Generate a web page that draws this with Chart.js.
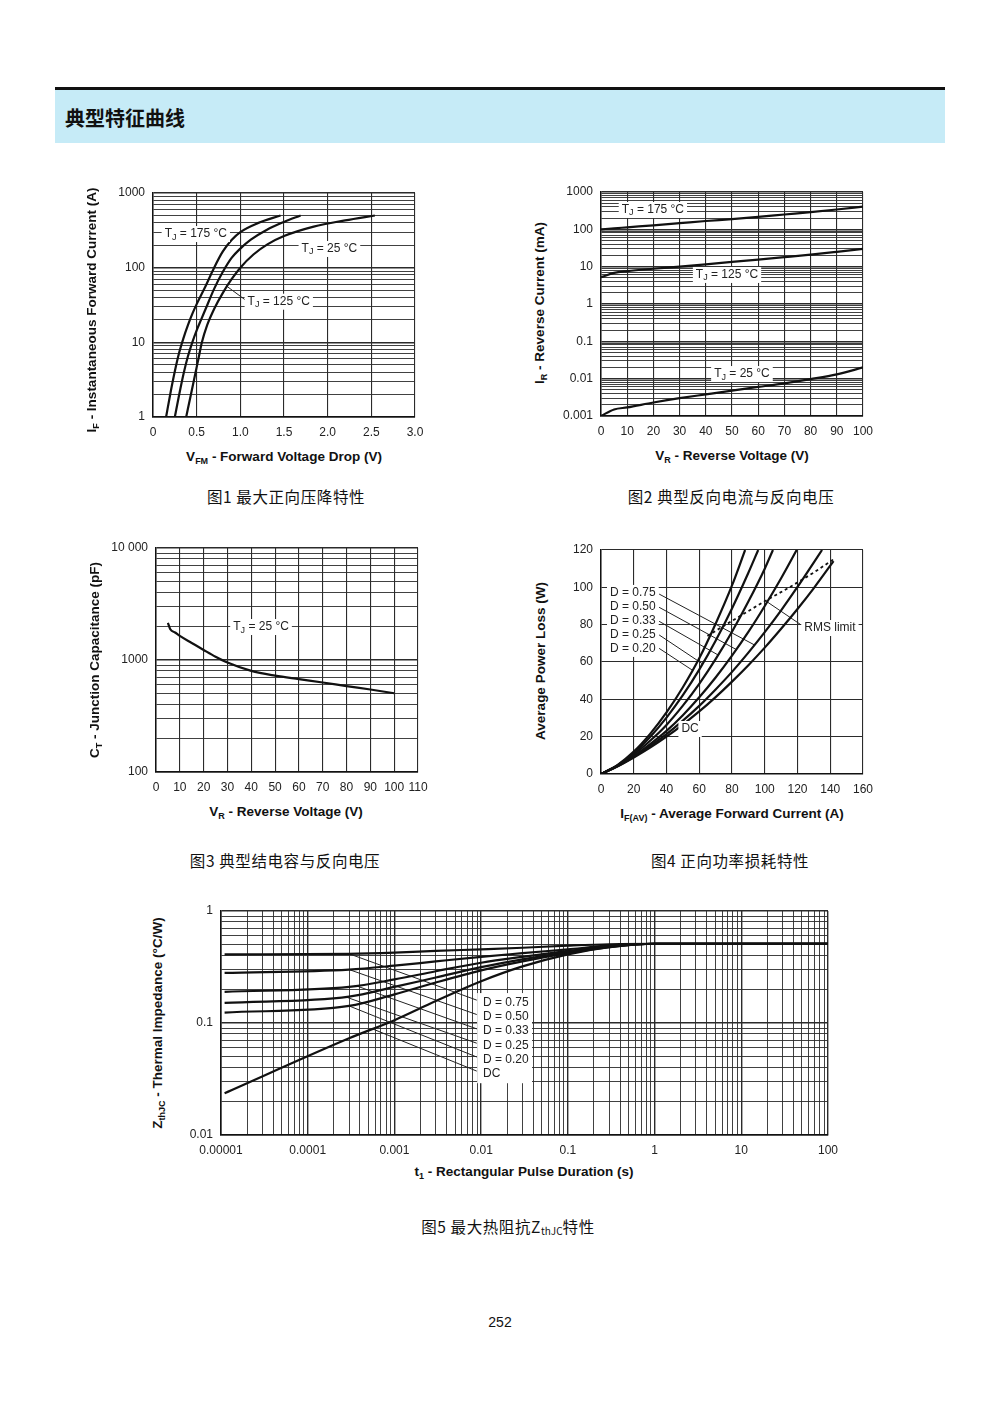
<!DOCTYPE html>
<html>
<head>
<meta charset="utf-8">
<script src="https://cdn.jsdelivr.net/npm/chart.js@4.4.1/dist/chart.umd.min.js"></script>
<style>
body{margin:0;background:#fff;}
#page{position:relative;width:1000px;height:1414px;overflow:hidden;font-family:"Liberation Sans",Arial,sans-serif;color:#111;}
.rule{position:absolute;left:55px;top:87px;width:890px;height:3px;background:#111;}
.band{position:absolute;left:55px;top:90px;width:890px;height:53px;background:#c6ebf7;}
.band span{position:absolute;left:10px;top:50%;transform:translateY(-50%);font:bold 20px "Noto Sans CJK SC";}
canvas{position:absolute;}
.ax{position:absolute;font-weight:bold;font-size:13.5px;white-space:nowrap;transform:translate(-50%,-50%);}
.ax.v{transform:translate(-50%,-50%) rotate(-90deg);}
.ax sub{font-size:9px;vertical-align:-3px;}
.cap{position:absolute;font:15.5px "Noto Sans CJK SC";letter-spacing:0.6px;white-space:pre;transform:translate(-50%,-50%);}
.cap sub{font-size:10px;vertical-align:-2px;letter-spacing:0;}
.pno{position:absolute;left:500px;top:1322px;transform:translate(-50%,-50%);font-size:14px;}
</style>
</head>
<body>
<div id="page">
  <div class="rule"></div>
  <div class="band"><span>典型特征曲线</span></div>

  <canvas id="fig1"></canvas>
  <canvas id="fig2"></canvas>
  <canvas id="fig3"></canvas>
  <canvas id="fig4"></canvas>
  <canvas id="fig5"></canvas>

  <div class="ax v" style="left:92px;top:310px">I<sub>F</sub> - Instantaneous Forward Current (A)</div>
  <div class="ax" style="left:284px;top:457px">V<sub>FM</sub> - Forward Voltage Drop (V)</div>
  <div class="ax v" style="left:540px;top:303px">I<sub>R</sub> - Reverse Current (mA)</div>
  <div class="ax" style="left:732px;top:456px">V<sub>R</sub> - Reverse Voltage (V)</div>
  <div class="ax v" style="left:95px;top:660px">C<sub>T</sub> - Junction Capacitance (pF)</div>
  <div class="ax" style="left:286px;top:812px">V<sub>R</sub> - Reverse Voltage (V)</div>
  <div class="ax v" style="left:540px;top:661px">Average Power Loss (W)</div>
  <div class="ax" style="left:732px;top:814px">I<sub>F(AV)</sub> - Average Forward Current (A)</div>
  <div class="ax v" style="left:158px;top:1023px">Z<sub>thJC</sub> - Thermal Impedance (°C/W)</div>
  <div class="ax" style="left:524px;top:1172px">t<sub>1</sub> - Rectangular Pulse Duration (s)</div>

  <div class="cap" style="left:286px;top:496px">图1 最大正向压降特性</div>
  <div class="cap" style="left:731px;top:496px">图2 典型反向电流与反向电压</div>
  <div class="cap" style="left:285px;top:860px">图3 典型结电容与反向电压</div>
  <div class="cap" style="left:730px;top:860px">图4 正向功率损耗特性</div>
  <div class="cap" style="left:508px;top:1226px">图5 最大热阻抗Z<sub>thJC</sub>特性</div>
  <div class="pno">252</div>
</div>

<script>
// fig 1 - forward voltage drop (V) vs forward current (A)
const fig1Volt175 = [0.15,0.2,0.25,0.3,0.35,0.4,0.45,0.5,0.6,0.7,0.8,0.9,1.0,1.2,1.46];
const fig1Amp175  = [1,2.1,4.1,7.3,11.5,17,24,32.5,56,100,165,235,300,395,500];
const fig1Volt125 = [0.25,0.3,0.35,0.4,0.45,0.5,0.55,0.6,0.7,0.8,0.9,1.0,1.12,1.3,1.5,1.69];
const fig1Amp125  = [1,2.0,3.8,6.5,10,14.5,20,27.5,52,88,135,180,237,320,410,500];
const fig1Volt25  = [0.38,0.43,0.48,0.52,0.56,0.62,0.7,0.8,0.9,1.0,1.15,1.31,1.5,1.84,2.2,2.54];
const fig1Amp25   = [1,1.9,3.6,6.0,10,17,28,46,70,100,150,205,265,355,430,500];
const fig1XLabels = ['0','0.5','1.0','1.5','2.0','2.5','3.0'];
const fig1YLabels = ['1','10','100','1000'];

// fig 2 - reverse voltage (V) vs reverse current (mA)
const fig2Volt = [0,5,10,20,30,40,50,60,70,80,90,100];
const fig2T175 = [100,106,113,128,146,167,188,215,250,290,340,405];
const fig2T125 = [5.2,6.8,7.6,8.8,10,11.5,13.5,15.5,18,21,25,30];
const fig2T25  = [0.001,0.0015,0.0017,0.0023,0.003,0.0038,0.0048,0.006,0.0075,0.0097,0.013,0.02];
const fig2XLabels = ['0','10','20','30','40','50','60','70','80','90','100'];
const fig2YLabels = ['0.001','0.01','0.1','1','10','100','1000'];

// fig 3 - reverse voltage (V) vs junction capacitance (pF)
const fig3Volt = [5,6,8,10,15,20,25,30,40,50,60,70,80,90,100];
const fig3Cap  = [2150,1880,1760,1640,1420,1230,1070,950,800,725,675,630,585,545,505];
const fig3XLabels = ['0','10','20','30','40','50','60','70','80','90','100','110'];
const fig3YLabels = ['100','1000','10 000'];

// fig 4 - average forward current (A) vs average power loss (W)
const fig4D20 = [[0,0],[10,4.8],[20,12],[30,21.5],[40,33],[50,46.5],[60,62],[70,80.5],[80,101],[88,120]];
const fig4D25 = [[0,0],[10,4.6],[20,11.2],[30,19.8],[40,30.2],[50,42.2],[60,55.9],[70,71.4],[80,88.7],[90,107.8],[96,120]];
const fig4D33 = [[0,0],[10,4.4],[20,10.4],[30,17.8],[40,26.3],[50,36.6],[60,48.3],[70,61.5],[80,76.2],[90,92.4],[100,110],[105,120]];
const fig4D50 = [[0,0],[10,4.2],[20,9.6],[30,16],[40,23.1],[50,31.5],[60,41.1],[70,51.7],[80,63.4],[90,76.1],[100,90],[110,104.9],[119.5,120]];
const fig4D75 = [[0,0],[10,4.1],[20,9.2],[30,15],[40,21.4],[50,28.6],[60,36.5],[70,45.3],[80,54.7],[90,65],[100,76],[110,87.7],[120,100.2],[130,113.4],[135,120]];
const fig4DC  = [[0,0],[10,4],[20,8.8],[30,14.1],[40,20],[50,26.5],[60,33.5],[70,41.2],[80,49.5],[90,58.3],[100,67.7],[110,77.8],[120,88.4],[130,99.6],[142,114]];
const fig4Rms = [[65,74],[80,82],[100,92.5],[115,100],[130,108],[142,115]];
const fig4XLabels = ['0','20','40','60','80','100','120','140','160'];
const fig4YLabels = ['0','20','40','60','80','100','120'];

// fig 5 - pulse duration (s) vs thermal impedance (°C/W)
const fig5Time = [1.1e-5,3e-4,1e-3,3e-3,0.01,0.03,0.1,0.3,1,100];
const fig5D75 = [0.41,0.415,0.425,0.44,0.455,0.47,0.49,0.505,0.51,0.51];
const fig5D50 = [0.28,0.30,0.325,0.355,0.39,0.42,0.455,0.49,0.51,0.51];
const fig5D33 = [0.19,0.21,0.245,0.29,0.345,0.39,0.44,0.485,0.51,0.51];
const fig5D25 = [0.151,0.172,0.21,0.255,0.315,0.37,0.43,0.48,0.51,0.51];
const fig5D20 = [0.124,0.142,0.18,0.23,0.295,0.355,0.42,0.475,0.51,0.51];
const fig5DC  = [0.0236,0.073,0.106,0.157,0.236,0.32,0.41,0.475,0.51,0.51];
const fig5XLabels = ['0.00001','0.0001','0.001','0.01','0.1','1','10','100'];
const fig5YLabels = ['0.01','0.1','1'];

const INK = '#111';
const GRID = '#2b2b2b';
const TICK_FONT = {family: 'Liberation Sans, Arial, sans-serif', size: 12};

function isDecade(v){
    const l = Math.log10(v);
    return Math.abs(l - Math.round(l)) < 1e-6;
}

function logTicks(lo, hi){
    const t = [];
    for (let e = lo; e < hi; e++) {
        for (let m = 1; m < 10; m++) t.push(+(m * Math.pow(10, e)).toPrecision(3));
    }
    t.push(+Math.pow(10, hi).toPrecision(3));
    return t;
}

function logAxis(lo, hi, labels){
    return {
        type: 'logarithmic',
        min: Math.pow(10, lo), max: Math.pow(10, hi),
        afterBuildTicks: s => { s.ticks = logTicks(lo, hi).map(v => ({value: v})); },
        ticks: {
            autoSkip: false, maxRotation: 0, padding: 8, color: '#222', font: TICK_FONT,
            callback: v => isDecade(v) ? labels[Math.round(Math.log10(v)) - lo] : ''
        },
        grid: {color: GRID, lineWidth: c => (c.tick && isDecade(c.tick.value)) ? 1.4 : 0.9, drawTicks: false},
        border: {color: INK, width: 1.5}
    };
}

function linAxis(min, max, step, labels){
    return {
        type: 'linear', min: min, max: max,
        ticks: {
            stepSize: step, autoSkip: false, maxRotation: 0, padding: 8, color: '#222', font: TICK_FONT,
            callback: (v, i) => labels[i]
        },
        grid: {color: GRID, lineWidth: 1.1, drawTicks: false},
        border: {color: INK, width: 1.5}
    };
}

function xy(xs, ys){ return xs.map((x, i) => ({x: x, y: ys[i]})); }
function pts(arr){ return arr.map(p => ({x: p[0], y: p[1]})); }

function curve(data, w){
    return {data: data, borderColor: INK, borderWidth: w || 2.2, pointRadius: 0,
            cubicInterpolationMode: 'monotone', fill: false};
}
function leader(arr){
    return {data: pts(arr), borderColor: '#222', borderWidth: 1, pointRadius: 0, fill: false};
}

// labels like "T_J = 175 °C" : the part after "_" up to the space is a subscript
function splitSub(str){
    const i = str.indexOf('_');
    if (i < 0) return [[str, false]];
    const rest = str.slice(i + 1);
    const sp = rest.indexOf(' ');
    return [[str.slice(0, i), false], [rest.slice(0, sp), true], [rest.slice(sp), false]];
}

const notes = {
    id: 'notes',
    beforeDatasetsDraw(chart, args, o){
        const {ctx, scales: {x, y}} = chart;
        (o.boxes || []).forEach(b => {
            const x0 = x.getPixelForValue(b[0]), x1 = x.getPixelForValue(b[1]);
            const y0 = y.getPixelForValue(b[2]), y1 = y.getPixelForValue(b[3]);
            ctx.save();
            ctx.fillStyle = '#fff';
            ctx.fillRect(Math.min(x0, x1), Math.min(y0, y1), Math.abs(x1 - x0), Math.abs(y1 - y0));
            ctx.restore();
        });
    },
    afterDatasetsDraw(chart, args, o){
        const {ctx, scales: {x, y}} = chart;
        (o.labels || []).forEach(l => {
            const parts = splitSub(l.text);
            ctx.save();
            let w = 0;
            parts.forEach(p => {
                ctx.font = (p[1] ? '9px' : '12px') + ' Liberation Sans, Arial, sans-serif';
                p.push(ctx.measureText(p[0]).width);
                w += p[2];
            });
            const px = x.getPixelForValue(l.x), py = y.getPixelForValue(l.y);
            let left = l.align === 'left' ? px : px - w / 2;
            if (l.bg) {
                ctx.fillStyle = '#fff';
                ctx.fillRect(left - 3, py - 8, w + 6, 16);
            }
            ctx.fillStyle = '#222';
            ctx.textBaseline = 'middle';
            parts.forEach(p => {
                ctx.font = (p[1] ? '9px' : '12px') + ' Liberation Sans, Arial, sans-serif';
                ctx.fillText(p[0], left, p[1] ? py + 3 : py);
                left += p[2];
            });
            ctx.restore();
        });
    }
};

function makeChart(id, box, area, datasets, xAxis, yAxis, noteOpts){
    const cv = document.getElementById(id);
    cv.style.left = box.x + 'px';
    cv.style.top = box.y + 'px';
    cv.style.width = box.w + 'px';
    cv.style.height = box.h + 'px';
    cv.width = box.w;
    cv.height = box.h;
    xAxis.afterFit = s => { s.height = box.y + box.h - area.b; s.paddingLeft = 0; s.paddingRight = 0; };
    yAxis.afterFit = s => { s.width = area.l - box.x; s.paddingTop = 0; s.paddingBottom = 0; };
    return new Chart(cv, {
        type: 'line',
        data: {datasets: datasets},
        options: {
            responsive: false,
            animation: false,
            events: [],
            layout: {padding: {left: 0, top: area.t - box.y, right: box.x + box.w - area.r, bottom: 0}},
            plugins: {legend: {display: false}, tooltip: {enabled: false}, notes: noteOpts || {}},
            scales: {x: xAxis, y: yAxis}
        },
        plugins: [notes]
    });
}

// fig 1
makeChart('fig1', {x: 100, y: 183, w: 330, h: 262}, {l: 153, t: 193, r: 415, b: 417},
    [curve(xy(fig1Volt175, fig1Amp175)), curve(xy(fig1Volt125, fig1Amp125)), curve(xy(fig1Volt25, fig1Amp25)),
     leader([[0.84, 57], [1.07, 36]])],
    linAxis(0, 3, 0.5, fig1XLabels), logAxis(0, 3, fig1YLabels),
    {labels: [
        {text: 'T_J = 175 °C', x: 0.49, y: 282, bg: true},
        {text: 'T_J = 25 °C', x: 2.02, y: 178, bg: true},
        {text: 'T_J = 125 °C', x: 1.44, y: 35, bg: true}
    ]});

// fig 2
makeChart('fig2', {x: 550, y: 182, w: 330, h: 262}, {l: 601, t: 192, r: 863, b: 416},
    [curve(xy(fig2Volt, fig2T175)), curve(xy(fig2Volt, fig2T125)), curve(xy(fig2Volt, fig2T25))],
    linAxis(0, 100, 10, fig2XLabels), logAxis(-3, 3, fig2YLabels),
    {labels: [
        {text: 'T_J = 175 °C', x: 19.8, y: 330, bg: true},
        {text: 'T_J = 125 °C', x: 48.1, y: 6.0, bg: true},
        {text: 'T_J = 25 °C', x: 53.8, y: 0.0133, bg: true}
    ]});

// fig 3
makeChart('fig3', {x: 100, y: 538, w: 340, h: 262}, {l: 156, t: 548, r: 418, b: 772},
    [curve(xy(fig3Volt, fig3Cap))],
    linAxis(0, 110, 10, fig3XLabels), logAxis(2, 4, fig3YLabels),
    {labels: [{text: 'T_J = 25 °C', x: 44.1, y: 1970, bg: true}]});

// fig 4
const rmsLine = curve(pts(fig4Rms), 1.8);
rmsLine.borderDash = [3, 3];
makeChart('fig4', {x: 560, y: 540, w: 320, h: 262}, {l: 601, t: 550, r: 863, b: 774},
    [curve(pts(fig4D20)), curve(pts(fig4D25)), curve(pts(fig4D33)), curve(pts(fig4D50)),
     curve(pts(fig4D75)), curve(pts(fig4DC)), rmsLine,
     leader([[35.5, 96.4], [94, 69]]), leader([[35.5, 89.3], [83, 66.5]]), leader([[35.5, 81.8], [72, 63.5]]),
     leader([[35.5, 74.5], [62, 59]]), leader([[35.5, 67.3], [56, 55.5]]), leader([[122, 80], [101, 92.5]])],
    linAxis(0, 160, 20, fig4XLabels), linAxis(0, 120, 20, fig4YLabels),
    {labels: [
        {text: 'D = 0.75', x: 5.5, y: 97, align: 'left', bg: true},
        {text: 'D = 0.50', x: 5.5, y: 89.5, align: 'left', bg: true},
        {text: 'D = 0.33', x: 5.5, y: 82, align: 'left', bg: true},
        {text: 'D = 0.25', x: 5.5, y: 74.5, align: 'left', bg: true},
        {text: 'D = 0.20', x: 5.5, y: 67, align: 'left', bg: true},
        {text: 'RMS limit', x: 139.8, y: 78.2, bg: true},
        {text: 'DC', x: 54.4, y: 24.1, bg: true}
    ]});

// fig 5
makeChart('fig5', {x: 170, y: 900, w: 680, h: 262}, {l: 221, t: 911, r: 828, b: 1135},
    [curve(xy(fig5Time, fig5D75)), curve(xy(fig5Time, fig5D50)), curve(xy(fig5Time, fig5D33)),
     curve(xy(fig5Time, fig5D25)), curve(xy(fig5Time, fig5D20)), curve(xy(fig5Time, fig5DC)),
     leader([[3e-4, 0.415], [0.0089, 0.16]]), leader([[3e-4, 0.30], [0.0089, 0.119]]),
     leader([[3.5e-4, 0.217], [0.0089, 0.0886]]), leader([[2.8e-4, 0.17], [0.0089, 0.066]]),
     leader([[3e-4, 0.142], [0.0089, 0.0497]]), leader([[5.5e-4, 0.089], [0.0089, 0.0372]])],
    logAxis(-5, 2, fig5XLabels), logAxis(-2, 0, fig5YLabels),
    {boxes: [[0.009, 0.0386, 0.185, 0.029]],
     labels: [
        {text: 'D = 0.75', x: 0.0105, y: 0.151, align: 'left'},
        {text: 'D = 0.50', x: 0.0105, y: 0.113, align: 'left'},
        {text: 'D = 0.33', x: 0.0105, y: 0.0848, align: 'left'},
        {text: 'D = 0.25', x: 0.0105, y: 0.0625, align: 'left'},
        {text: 'D = 0.20', x: 0.0105, y: 0.0468, align: 'left'},
        {text: 'DC', x: 0.0105, y: 0.0351, align: 'left'}
     ]});
</script>
</body>
</html>
